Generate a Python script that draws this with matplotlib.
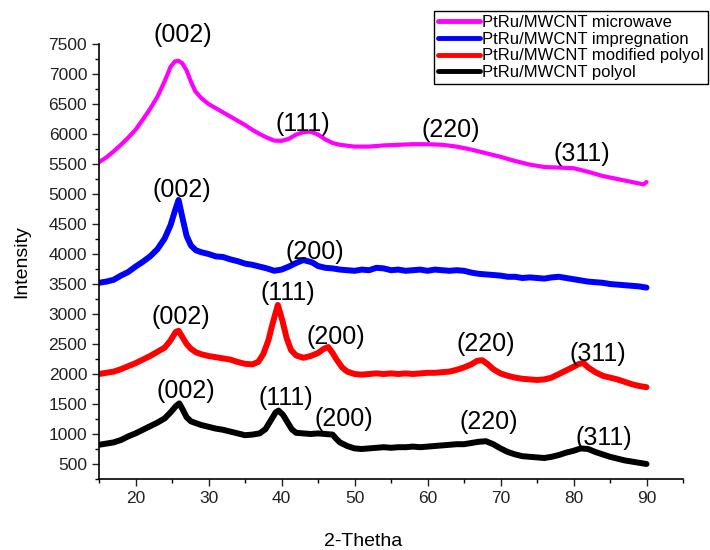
import matplotlib
matplotlib.use("Agg")
import matplotlib.pyplot as plt
from matplotlib.ticker import MultipleLocator

plt.rcParams['font.family'] = ['Liberation Sans', 'DejaVu Sans']

# ---------------- data ----------------
labels = ["PtRu/MWCNT microwave", "PtRu/MWCNT impregnation",
          "PtRu/MWCNT modified polyol", "PtRu/MWCNT polyol"]
colors = ["#ff00ff", "#0000ff", "#ff0000", "#000000"]

mw_x = [15, 16, 17, 18, 19, 20, 21, 22, 23, 24, 24.8, 25.4, 25.9, 26.4, 27, 27.6, 28.2, 29,
        30, 31, 32, 33, 34, 35, 36, 37, 38, 39, 40, 41, 42, 43, 44, 45, 46, 47, 48, 50, 52,
        54, 56, 58, 60, 62, 64, 66, 68, 70, 72, 74, 76, 78, 80, 82, 84, 86, 88, 89.6, 90]
mw_y = [5530, 5610, 5710, 5820, 5940, 6070, 6240, 6420, 6620, 6880, 7120, 7210, 7220, 7180,
        7060, 6870, 6710, 6600, 6500, 6430, 6360, 6290, 6220, 6150, 6070, 6000, 5940, 5890,
        5885, 5920, 5990, 6030, 6040, 5990, 5910, 5850, 5820, 5790, 5790, 5810, 5820, 5830,
        5830, 5820, 5790, 5740, 5680, 5620, 5550, 5490, 5450, 5440, 5430, 5370, 5300, 5250,
        5200, 5160, 5200]

im_x = [15, 16, 17, 18, 19, 20, 21, 22, 23, 24, 24.8, 25.4, 25.9, 26.4, 27, 27.6, 28.3, 29,
        30, 31, 32, 33, 34, 35, 36, 37, 38, 39, 40, 41, 42, 43, 43.6, 44.2, 45, 46, 47, 48,
        49, 50, 51, 52, 53, 54, 55, 56, 57, 58, 59, 60, 61, 62, 63, 64, 65, 66, 67, 68, 69,
        70, 71, 72, 73, 74, 75, 76, 77, 78, 79, 80, 81, 82, 83, 84, 85, 86, 87, 88, 89, 90]
im_y = [3520, 3540, 3570, 3640, 3700, 3790, 3870, 3960, 4080, 4260, 4480, 4720, 4900, 4620,
        4300, 4140, 4060, 4030, 4000, 3960, 3950, 3910, 3880, 3840, 3820, 3790, 3760, 3720,
        3740, 3790, 3850, 3900, 3880, 3860, 3800, 3770, 3760, 3740, 3730, 3720, 3740, 3730,
        3770, 3760, 3730, 3740, 3720, 3730, 3740, 3720, 3740, 3730, 3720, 3730, 3720, 3690,
        3670, 3660, 3650, 3640, 3620, 3620, 3600, 3610, 3600, 3590, 3610, 3620, 3600, 3580,
        3560, 3540, 3530, 3520, 3500, 3490, 3480, 3470, 3460, 3440]

mp_x = [15, 16, 17, 18, 19, 20, 21, 22, 23, 24, 24.8, 25.5, 25.9, 26.4, 27, 27.6, 28.3, 29,
        30, 31, 32, 33, 34, 35, 36, 36.8, 37.5, 38.2, 38.8, 39.5, 40.1, 40.7, 41.3, 42, 43,
        44, 45, 45.8, 46.4, 47, 47.6, 48.3, 49, 50, 51, 52, 53, 54, 55, 56, 57, 58, 59, 60,
        61, 62, 63, 64, 65, 66, 66.8, 67.5, 68.3, 69, 70, 71, 72, 73, 74, 75, 76, 77, 78, 79,
        80, 80.8, 81.4, 82, 83, 84, 85, 86, 87, 88, 89, 90]
mp_y = [2000, 2020, 2040, 2080, 2130, 2180, 2240, 2300, 2370, 2440, 2560, 2700, 2720, 2620,
        2500, 2420, 2360, 2330, 2300, 2280, 2260, 2240, 2200, 2170, 2160, 2200, 2330, 2560,
        2850, 3150, 2900, 2600, 2400, 2310, 2270, 2300, 2350, 2420, 2450, 2350, 2230, 2110,
        2040, 2000, 1990, 2000, 2010, 2000, 2010, 2000, 2010, 2000, 2010, 2020, 2020, 2030,
        2040, 2070, 2110, 2160, 2220, 2230, 2160, 2080, 2010, 1970, 1940, 1920, 1910, 1900,
        1910, 1940, 2000, 2060, 2120, 2170, 2180, 2110, 2030, 1970, 1940, 1910, 1870, 1830,
        1800, 1780]

po_x = [15, 16, 17, 18, 19, 20, 21, 22, 23, 24, 24.8, 25.5, 26, 26.5, 27, 27.6, 28.3, 29,
        30, 31, 32, 33, 34, 35, 36, 37, 37.8, 38.5, 39.2, 39.6, 40.2, 40.8, 41.4, 42, 43, 44,
        45, 46, 47, 47.5, 48, 49, 50, 51, 52, 53, 54, 55, 56, 57, 58, 59, 60, 61, 62, 63, 64,
        65, 66, 67, 68, 69, 70, 71, 72, 73, 74, 75, 76, 77, 78, 79, 80, 81, 82, 83, 84, 85,
        86, 87, 88, 89, 90]
po_y = [820, 840, 860, 900, 960, 1010, 1070, 1130, 1190, 1260, 1360, 1460, 1510, 1400, 1280,
        1210, 1180, 1150, 1120, 1090, 1070, 1040, 1010, 980, 990, 1010, 1080, 1220, 1360,
        1390, 1320, 1200, 1080, 1020, 1010, 1000, 1010, 1000, 990, 920, 860, 800, 760, 750,
        760, 770, 780, 770, 780, 780, 790, 780, 790, 800, 810, 820, 830, 830, 850, 870, 880,
        830, 760, 700, 660, 630, 620, 610, 600, 620, 650, 690, 720, 760, 750, 700, 660, 620,
        590, 560, 540, 520, 500]

# peak annotations: (text, x, y)
mw_peaks = [("(002)", 26.5, 7650), ("(111)", 42.9, 6170), ("(220)", 63.2, 6070), ("(311)", 81.2, 5670)]
im_peaks = [("(002)", 26.4, 5070), ("(200)", 44.5, 4030)]
mp_peaks = [("(002)", 26.2, 2950), ("(111)", 40.8, 3350), ("(200)", 47.4, 2620),
            ("(220)", 68.0, 2500), ("(311)", 83.3, 2330)]
po_peaks = [("(002)", 26.9, 1720), ("(111)", 40.6, 1600), ("(200)", 48.5, 1250),
            ("(220)", 68.4, 1200), ("(311)", 84.1, 930)]

x_ticks = [20, 30, 40, 50, 60, 70, 80, 90]
y_ticks = [500, 1000, 1500, 2000, 2500, 3000, 3500, 4000, 4500, 5000, 5500, 6000, 6500, 7000, 7500]

# ---------------- figure ----------------
fig = plt.figure(figsize=(7.1, 5.5), dpi=100)
ax = fig.add_axes([99 / 710, 1 - 479 / 550, (683 - 99) / 710, (479 - 44) / 550])

series = [(mw_x, mw_y, 3.0), (im_x, im_y, 4.3), (mp_x, mp_y, 4.3), (po_x, po_y, 4.3)]
handles = []
for (xs, ys, lw), c, lab in zip(series, colors, labels):
    h, = ax.plot(xs, ys, color=c, lw=lw, label=lab, solid_joinstyle='round',
                 solid_capstyle='round')
    handles.append(h)

for peaks in (mw_peaks, im_peaks, mp_peaks, po_peaks):
    for t, px, py in peaks:
        ax.text(px, py, t, fontsize=18, ha='center', va='center', color='black')

ax.set_xlim(15, 95)
ax.set_ylim(250, 7500)
ax.set_xticks(x_ticks)
ax.set_yticks(y_ticks)
ax.xaxis.set_minor_locator(MultipleLocator(5))
ax.yaxis.set_minor_locator(MultipleLocator(250))
ax.tick_params(axis='both', which='major', direction='out', length=5, width=1,
               labelsize=12.5, colors='#222222')
ax.tick_params(axis='both', which='minor', direction='out', length=3, width=1)
ax.spines['top'].set_visible(False)
ax.spines['right'].set_visible(False)
for s in ('left', 'bottom'):
    ax.spines[s].set_linewidth(1.2)

ax.set_xlabel("2-Thetha", fontsize=14)
ax.xaxis.set_label_coords(0.452, -0.123)
ax.set_ylabel("Intensity", fontsize=14)
ax.yaxis.set_label_coords(-0.118, 0.5)

leg = fig.legend(handles=handles, loc='upper right', bbox_to_anchor=(708 / 710, 1 - 11 / 550),
                 fontsize=12, frameon=True, fancybox=False, framealpha=1,
                 edgecolor='black', handlelength=2.5, handletextpad=0.15,
                 borderpad=0.25, labelspacing=0.1, borderaxespad=0)
leg.get_frame().set_linewidth(1.0)
for l in leg.get_lines():
    l.set_linewidth(3.5)

fig.savefig("out.png", dpi=100)
